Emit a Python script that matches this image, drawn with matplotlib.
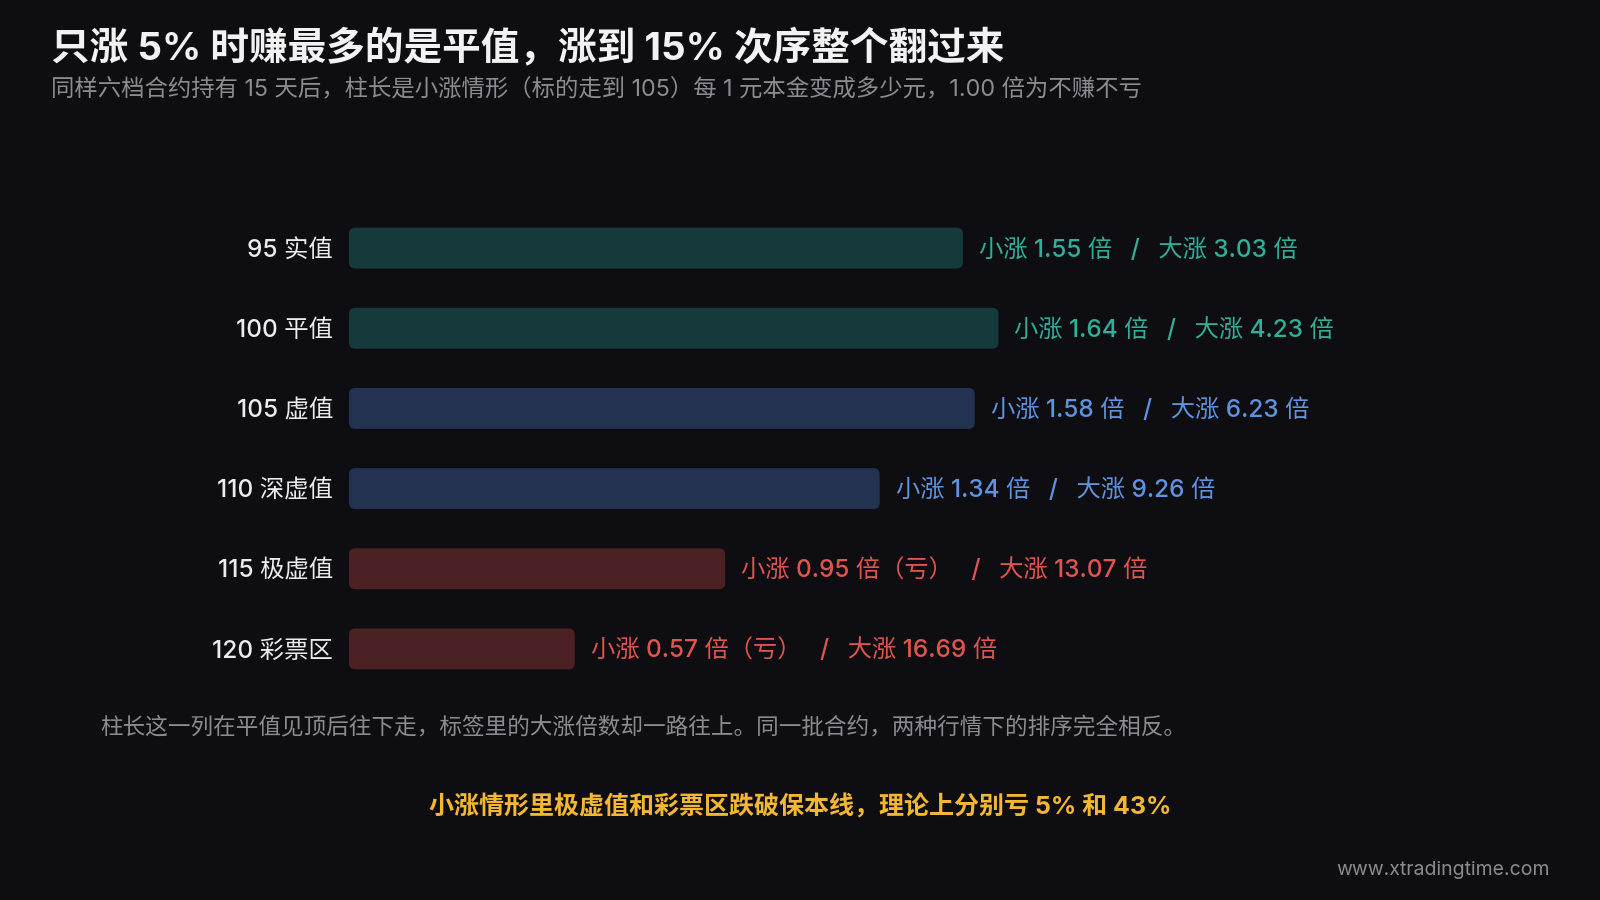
import matplotlib
matplotlib.use("Agg")
import matplotlib.pyplot as plt
from matplotlib.patches import FancyBboxPatch

# Latin glyphs from Inter, CJK falls back to Noto
plt.rcParams["font.family"] = ["Inter", "Noto Sans CJK SC", "DejaVu Sans"]

# data
categories = ["95 实值", "100 平值", "105 虚值", "110 深虚值", "115 极虚值", "120 彩票区"]
small_rise = [1.55, 1.64, 1.58, 1.34, 0.95, 0.57]   # 小涨 (to 105) multiple
big_rise = [3.03, 4.23, 6.23, 9.26, 13.07, 16.69]   # 大涨 multiple
groups = ["itm", "itm", "otm", "otm", "loss", "loss"]

BG = "#0e0e12"
bar_colors = {"itm": "#163a3b", "otm": "#243252", "loss": "#4c2124"}
text_colors = {"itm": "#2fae98", "otm": "#5f93df", "loss": "#e0544f"}

W, H = 1600, 900
fig = plt.figure(figsize=(16, 9), dpi=100, facecolor=BG)

# axes placed so that 1.0 multiple ~ 396 px, bar rows ~80 px apart
px_per_unit = 396
ax_left, ax_top, ax_bottom = 349, 208, 689
xmax = 3.0
ax = fig.add_axes([ax_left / W, 1 - ax_bottom / H, xmax * px_per_unit / W, (ax_bottom - ax_top) / H])
ax.set_facecolor(BG)

y = list(range(len(categories)))
bars = ax.barh(y, small_rise, height=0.51, color=[bar_colors[g] for g in groups])
ax.set_xlim(0, xmax)
ax.set_ylim(len(categories) - 0.5, -0.5)

# swap plain bars for rounded ones
r = 0.016
for b, g in zip(bars, groups):
    b.set_visible(False)
    ax.add_patch(FancyBboxPatch((b.get_x(), b.get_y()), b.get_width(), b.get_height(),
                                boxstyle=f"round,pad=0,rounding_size={r}",
                                mutation_aspect=px_per_unit / 80.2,
                                facecolor=bar_colors[g], edgecolor="none"))

sep = " \u2002/\u2002 "
for yi, s, bg, g in zip(y, small_rise, big_rise, groups):
    suffix = "（亏）" if s < 1 else ""
    label = f"小涨 {s:.2f} 倍{suffix}{sep}大涨 {bg:.2f} 倍"
    ax.annotate(label, (s, yi), xytext=(11.5, -1.2), textcoords="offset points",
                va="center", ha="left", fontsize=17.5, fontweight="medium",
                color=text_colors[g])

ax.set_yticks(y)
ax.set_yticklabels(categories, fontsize=17.6, fontweight="medium", color="#ececec")
ax.tick_params(axis="y", length=0, pad=11.5)
ax.set_xticks([])
for s in ax.spines.values():
    s.set_visible(False)

# titles and notes
fig.text(51 / W, 1 - 48 / H, "只涨 5% 时赚最多的是平值，涨到 15% 次序整个翻过来",
         fontsize=27.8, fontweight="bold", color="#f2f2f2", va="center", ha="left")
fig.text(51 / W, 1 - 90 / H,
         "同样六档合约持有 15 天后，柱长是小涨情形（标的走到 105）每 1 元本金变成多少元，1.00 倍为不赚不亏",
         fontsize=16.8, color="#8b8b92", va="center", ha="left")
fig.text(100 / W, 1 - 727 / H,
         "柱长这一列在平值见顶后往下走，标签里的大涨倍数却一路往上。同一批合约，两种行情下的排序完全相反。",
         fontsize=16.25, color="#8b8b92", va="center", ha="left")
fig.text(800 / W, 1 - 807 / H, "小涨情形里极虚值和彩票区跌破保本线，理论上分别亏 5% 和 43%",
         fontsize=18, fontweight="bold", color="#f4b731", va="center", ha="center")
fig.text(1550 / W, 1 - 870 / H, "www.xtradingtime.com",
         fontsize=14, color="#8a8a90", va="center", ha="right")

fig.savefig("out.png", dpi=100, facecolor=BG)
